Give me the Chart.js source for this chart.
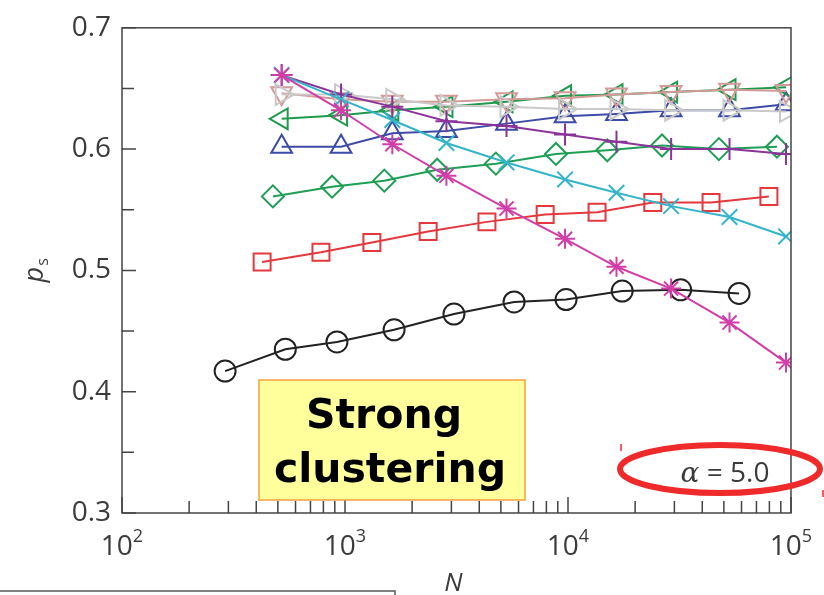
<!DOCTYPE html>
<html>
<head>
<meta charset="utf-8">
<title>p_s vs N, alpha = 5.0</title>
<script src="https://cdn.jsdelivr.net/npm/chart.js@4.4.1/dist/chart.umd.min.js"></script>
<style>
  body { margin: 0; background: #fff; }
  #wrap { position: relative; width: 824px; height: 595px; overflow: hidden; }
</style>
</head>
<body>
<div id="wrap"><canvas id="chart" width="824" height="595"></canvas></div>
<script>
// x positions (system size N) for each family of curves
const nBlack = [290, 540, 920, 1660, 3080, 5730, 9800, 17500, 32000, 58500];
const nRed   = [425, 780, 1320, 2360, 4330, 7900, 13500, 24000, 43800, 79600];
const nGreen = [475, 875, 1500, 2590, 4750, 8830, 15000, 26400, 47500, 86500];
const nTop   = [520, 960, 1630, 2850, 5300, 9700, 16500, 29000, 53000, 95000];

// p_s values
const psCircle   = [0.417, 0.435, 0.441, 0.451, 0.464, 0.474, 0.476, 0.483, 0.484, 0.481];
const psSquare   = [0.507, 0.515, 0.523, 0.532, 0.540, 0.546, 0.548, 0.556, 0.556, 0.561];
const psDiamond  = [0.561, 0.569, 0.574, 0.583, 0.588, 0.596, 0.599, 0.603, 0.600, 0.602];
const psTriUp    = [0.602, 0.602, 0.613, 0.615, 0.621, 0.627, 0.629, 0.632, 0.632, 0.637];
const psTriLeft  = [0.625, 0.628, 0.632, 0.635, 0.639, 0.644, 0.645, 0.647, 0.649, 0.651];
const psTriDown  = [0.646, 0.641, 0.639, 0.639, 0.641, 0.642, 0.645, 0.647, 0.649, 0.648];
const psTriRight = [0.645, 0.645, 0.641, 0.636, 0.635, 0.633, 0.633, 0.632, 0.632, 0.631];
const psPlus     = [0.661, 0.645, 0.635, 0.623, 0.619, 0.612, 0.606, 0.600, 0.600, 0.596];
const psCross    = [0.661, 0.641, 0.624, 0.605, 0.589, 0.575, 0.564, 0.553, 0.544, 0.528];
const psStar     = [0.661, 0.632, 0.604, 0.578, 0.551, 0.526, 0.503, 0.485, 0.457, 0.424];

// axis ticks
const yTicks = [0.3, 0.4, 0.5, 0.6, 0.7];
const yMinor = [0.35, 0.45, 0.55, 0.65];
const xDecades = [100, 1000, 10000, 100000];
const xExponents = ['2', '3', '4', '5'];

const textColor = '#3b3b3b';
const axisColor = '#444';

function pts(n, p) {
    return n.map((v, i) => ({ x: v, y: p[i] }));
}

function series(label, n, p, color, style, radius, rotation) {
    return {
        label: label,
        data: pts(n, p),
        borderColor: color,
        backgroundColor: 'transparent',
        borderWidth: 2,
        pointStyle: style,
        pointRadius: radius,
        pointRotation: rotation || 0,
        pointBorderColor: color,
        pointBackgroundColor: 'transparent',
        pointBorderWidth: 2,
        tension: 0,
        clip: 0
    };
}

// first dataset is drawn on top
const datasets = [
    series('star', nTop, psStar, '#d23ea8', 'star', 10),
    series('cross', nTop, psCross, '#33b4c9', 'crossRot', 11),
    series('plus', nTop, psPlus, '#8b3399', 'cross', 11),
    series('right', nTop, psTriRight, '#c9c9c9', 'triangle', 12, 90),
    series('down', nTop, psTriDown, '#d39a98', 'triangle', 12, 180),
    series('left', nTop, psTriLeft, '#1f9a4c', 'triangle', 12, 270),
    series('up', nTop, psTriUp, '#3d4aa6', 'triangle', 12),
    series('diamond', nGreen, psDiamond, '#1f9e55', 'rectRot', 11),
    series('square', nRed, psSquare, '#e3383d', 'rect', 12),
    series('circle', nBlack, psCircle, '#222', 'circle', 10.5)
];

// frame, inward ticks, x labels and the annotations
const decorPlugin = {
    id: 'decor',
    afterDraw(chart) {
        const ctx = chart.ctx;
        const a = chart.chartArea;
        const x = chart.scales.x;
        const y = chart.scales.y;
        ctx.save();

        ctx.strokeStyle = axisColor;
        ctx.lineWidth = 1.5;
        ctx.strokeRect(a.left, a.top, a.right - a.left, a.bottom - a.top);

        ctx.beginPath();
        yTicks.forEach(v => {
            const py = y.getPixelForValue(v);
            ctx.moveTo(a.left, py); ctx.lineTo(a.left + 14, py);
        });
        yMinor.forEach(v => {
            const py = y.getPixelForValue(v);
            ctx.moveTo(a.left, py); ctx.lineTo(a.left + 12, py);
        });
        xDecades.forEach(v => {
            const px = x.getPixelForValue(v);
            ctx.moveTo(px, a.bottom); ctx.lineTo(px, a.bottom - 16);
        });
        for (let d = 100; d < 100000; d *= 10) {
            for (let k = 2; k <= 9; k++) {
                const px = x.getPixelForValue(k * d);
                ctx.moveTo(px, a.bottom); ctx.lineTo(px, a.bottom - 12);
            }
        }
        ctx.stroke();

        // x tick labels 10^k
        ctx.fillStyle = textColor;
        ctx.textBaseline = 'alphabetic';
        ctx.textAlign = 'left';
        xDecades.forEach((v, i) => {
            const px = x.getPixelForValue(v);
            ctx.font = '28px "Open Sans"';
            const w1 = ctx.measureText('10').width;
            ctx.font = '18px "Open Sans"';
            const w2 = ctx.measureText(xExponents[i]).width;
            const left = px - (w1 + w2) / 2;
            ctx.font = '28px "Open Sans"';
            ctx.fillText('10', left, a.bottom + 42);
            ctx.font = '18px "Open Sans"';
            ctx.fillText(xExponents[i], left + w1, a.bottom + 29);
        });

        // axis titles
        ctx.font = 'italic 26px "Open Sans"';
        ctx.textAlign = 'center';
        ctx.fillText('N', (a.left + a.right) / 2 - 3, 591);

        ctx.save();
        ctx.translate(43, (a.top + a.bottom) / 2 + 12);
        ctx.rotate(-Math.PI / 2);
        ctx.textAlign = 'left';
        ctx.font = 'italic 27px "Open Sans"';
        ctx.fillText('p', 0, 0);
        const pw = ctx.measureText('p').width;
        ctx.font = '16px "Open Sans"';
        ctx.fillText('s', pw + 1, 5);
        ctx.restore();

        // yellow note
        ctx.fillStyle = '#ffff9c';
        ctx.fillRect(259, 380, 266, 120);
        ctx.strokeStyle = '#f5a040';
        ctx.lineWidth = 1.5;
        ctx.strokeRect(259, 380, 266, 120);
        ctx.fillStyle = '#000';
        ctx.font = 'bold 41px "DejaVu Sans"';
        ctx.textAlign = 'center';
        ctx.fillText('Strong', 384, 428);
        ctx.fillText('clustering', 390, 482);

        // alpha label
        ctx.fillStyle = textColor;
        ctx.textAlign = 'left';
        ctx.font = 'italic 28px "DejaVu Serif"';
        const aw = ctx.measureText('\u03b1').width;
        ctx.font = '28px "Open Sans"';
        const rest = ' = 5.0';
        const rw = ctx.measureText(rest).width;
        const ax = 725 - (aw + rw) / 2;
        ctx.font = 'italic 28px "DejaVu Serif"';
        ctx.fillText('\u03b1', ax, 482);
        ctx.font = '28px "Open Sans"';
        ctx.fillText(rest, ax + aw, 482);

        // red ellipse
        ctx.strokeStyle = '#ee2a2a';
        ctx.lineWidth = 6;
        ctx.beginPath();
        ctx.ellipse(720, 469, 100, 24, 0, 0, Math.PI * 2);
        ctx.stroke();

        // small red marks and the box edge at the bottom
        ctx.lineWidth = 1.5;
        ctx.beginPath();
        ctx.moveTo(621, 444); ctx.lineTo(621, 451);
        ctx.moveTo(823, 490); ctx.lineTo(823, 497);
        ctx.stroke();
        ctx.strokeStyle = '#555';
        ctx.beginPath();
        ctx.moveTo(0, 591); ctx.lineTo(395, 591); ctx.lineTo(395, 595);
        ctx.stroke();

        ctx.restore();
    }
};

const chartEl = document.getElementById('chart');
if (chartEl) {
    new Chart(chartEl.getContext('2d'), {
        type: 'line',
        data: { datasets: datasets },
        options: {
            responsive: false,
            animation: false,
            devicePixelRatio: 1,
            layout: { padding: { top: 19, right: 33, left: 0, bottom: 0 } },
            plugins: { legend: { display: false }, tooltip: { enabled: false } },
            scales: {
                x: {
                    type: 'logarithmic',
                    min: 100,
                    max: 100000,
                    ticks: { display: false },
                    grid: { display: false, drawTicks: false },
                    border: { display: false },
                    afterFit: s => { s.height = 82; }
                },
                y: {
                    type: 'linear',
                    min: 0.3,
                    max: 0.7,
                    afterBuildTicks: s => { s.ticks = yTicks.map(v => ({ value: v })); },
                    ticks: {
                        callback: v => v.toFixed(1),
                        font: { family: 'Open Sans', size: 28 },
                        color: textColor,
                        padding: 11
                    },
                    grid: { display: false, drawTicks: false },
                    border: { display: false },
                    afterFit: s => { s.width = 122; }
                }
            }
        },
        plugins: [decorPlugin]
    });
} else {
    console.error('chart canvas not found.');
}
</script>
</body>
</html>
